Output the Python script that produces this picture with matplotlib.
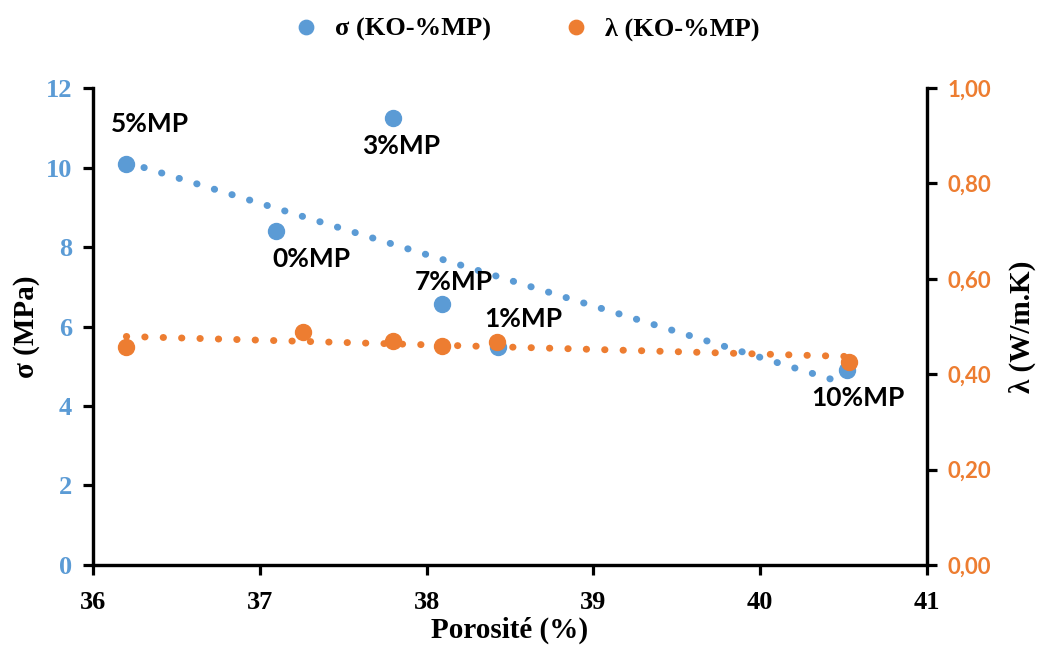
import numpy as np
import matplotlib.pyplot as plt
from matplotlib.ticker import FuncFormatter

# Data
labels = ["5%MP", "0%MP", "3%MP", "7%MP", "1%MP", "10%MP"]
poro_sigma = [36.20, 37.10, 37.80, 38.09, 38.43, 40.52]
sigma = [10.08, 8.40, 11.25, 6.57, 5.48, 4.90]
poro_lambda = [36.20, 37.26, 37.80, 38.09, 38.42, 40.53]
lam = [0.457, 0.488, 0.470, 0.459, 0.467, 0.426]
label_offsets = [(17, 29), (25, -20), (6, -20), (9, 16), (18, 20), (8, -20)]

blue = "#5B9BD5"
orange = "#ED7D31"
serif = "Liberation Serif"
sans = "Lato"

fig = plt.figure(figsize=(10.39, 6.53), dpi=100)
ax = fig.add_axes([0.0895, 0.135, 0.8027, 0.730])
ax2 = ax.twinx()

# linear trendlines (dotted, like Excel)
xs = np.linspace(min(poro_sigma), max(poro_sigma), 200)
p1 = np.polyfit(poro_sigma, sigma, 1)
ax.plot(xs, np.polyval(p1, xs), color=blue, lw=5,
        linestyle=(0, (0.05, 2.6)), dash_capstyle="round")
ax.plot(poro_sigma, sigma, "o", color=blue, ms=11.5, label="σ (KO-%MP)")

xl = np.linspace(min(poro_lambda), max(poro_lambda), 200)
p2 = np.polyfit(poro_lambda, lam, 1)
ax2.plot(xl, np.polyval(p2, xl), color=orange, lw=5,
         linestyle=(0, (0.05, 2.6)), dash_capstyle="round")
ax2.plot(poro_lambda, lam, "o", color=orange, ms=11.5, label="λ (KO-%MP)")

for lab, x, y, off in zip(labels, poro_sigma, sigma, label_offsets):
    ax.annotate(lab, (x, y), xytext=off, textcoords="offset points",
                ha="center", va="center", fontsize=19, fontweight="bold",
                family=sans, color="black")

ax.set_xlim(36, 41)
ax.set_ylim(0, 12)
ax2.set_ylim(0, 1)
ax.set_xticks(range(36, 42))
ax.set_yticks(range(0, 13, 2))
ax2.set_yticks(np.arange(0, 1.01, 0.2))
ax2.yaxis.set_major_formatter(FuncFormatter(lambda v, p: f"{v:.2f}".replace(".", ",")))

for a in (ax, ax2):
    a.spines["top"].set_visible(False)
    for s in ("left", "right", "bottom"):
        a.spines[s].set_linewidth(2.3)
    a.tick_params(width=2.3, length=7, direction="out")

ax.tick_params(axis="x", labelsize=19, pad=12)
ax.tick_params(axis="y", labelsize=19, labelcolor=blue, pad=8)
ax2.tick_params(axis="y", labelsize=16, labelcolor=orange, pad=8)
for t in ax.get_xticklabels() + ax.get_yticklabels():
    t.set_family(serif)
    t.set_fontweight("bold")
for t in ax2.get_yticklabels():
    t.set_family(sans)
    t.set_fontweight("bold")

ax.set_xlabel("Porosité (%)", fontsize=21, fontweight="bold", family=serif, labelpad=2)
ax.set_ylabel("σ (MPa)", fontsize=21, fontweight="bold", family=serif, labelpad=4)
ax2.set_ylabel("λ (W/m.K)", fontsize=21, fontweight="bold", family=serif,
               rotation=90, labelpad=12)

h1, l1 = ax.get_legend_handles_labels()
h2, l2 = ax2.get_legend_handles_labels()
fig.legend(h1 + h2, l1 + l2, loc="center", bbox_to_anchor=(0.5, 0.955), ncol=2,
           frameon=False, handletextpad=0.1, columnspacing=2.2, markerscale=0.9,
           prop={"family": serif, "weight": "bold", "size": 19})

fig.savefig("out.png", dpi=100)
